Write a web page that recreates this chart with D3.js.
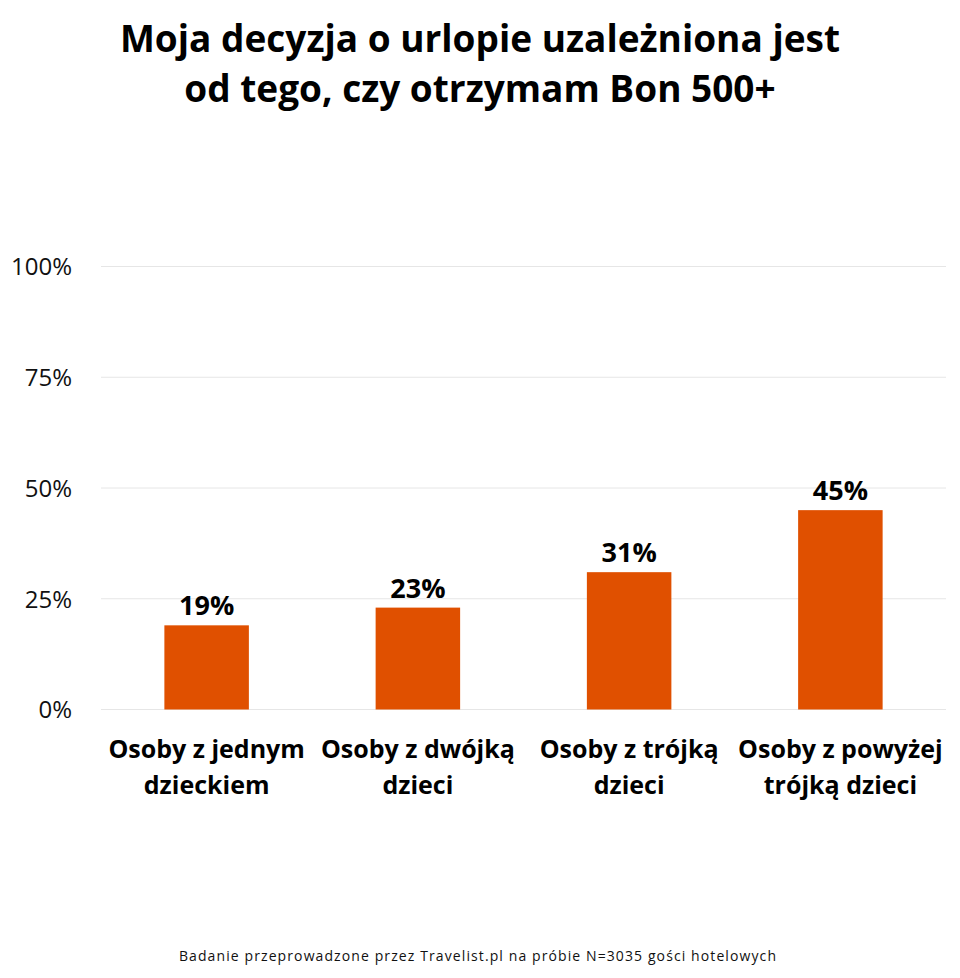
<!DOCTYPE html>
<html><head><meta charset="utf-8">
<script src="https://cdn.jsdelivr.net/npm/d3@7"></script>
<style>body{margin:0;background:#fff}svg{display:block}</style>
</head><body>
<script>
const titleLines = ["Moja decyzja o urlopie uzależniona jest", "od tego, czy otrzymam Bon 500+"];
const categories = [["Osoby z jednym", "dzieckiem"], ["Osoby z dwójką", "dzieci"], ["Osoby z trójką", "dzieci"], ["Osoby z powyżej", "trójką dzieci"]];
const values = [19, 23, 31, 45];
const yTicks = [0, 25, 50, 75, 100];
const footnote = "Badanie przeprowadzone przez Travelist.pl na próbie N=3035 gości hotelowych";

const W = 960, H = 978;
const font = "'Open Sans', 'Noto Sans', sans-serif";
const svg = d3.select("body").append("svg").attr("width", W).attr("height", H);

const x = d3.scaleBand().domain(d3.range(values.length)).range([101, 946]).paddingInner(0.6).paddingOuter(0.3);
const y = d3.scaleLinear().domain([0, 100]).range([709.5, 266.5]);

// gridlines
svg.append("g").selectAll("line").data(yTicks).join("line")
  .attr("x1", 101).attr("x2", 946)
  .attr("y1", d => y(d)).attr("y2", d => y(d))
  .attr("stroke", "#e6e6e6").attr("stroke-width", 1);

// y axis labels
const yAxis = d3.axisLeft(y).tickValues(yTicks).tickFormat(d => d + "%").tickSize(0).tickPadding(0);
const ya = svg.append("g").attr("transform", "translate(72,0)").call(yAxis);
ya.select(".domain").remove();
ya.selectAll("text").attr("font-family", font).attr("font-size", 24).attr("fill", "#111").attr("dy", "0.35em");

// bars
svg.append("g").selectAll("rect").data(values).join("rect")
  .attr("x", (d, i) => x(i)).attr("width", x.bandwidth())
  .attr("y", d => y(d)).attr("height", d => y(0) - y(d))
  .attr("fill", "#e05000");

// value labels
svg.append("g").selectAll("text").data(values).join("text")
  .attr("x", (d, i) => x(i) + x.bandwidth() / 2)
  .attr("y", d => y(d) - 10)
  .attr("text-anchor", "middle").attr("font-family", font).attr("font-weight", 700)
  .attr("font-size", 27).attr("fill", "#000")
  .text(d => d + "%");

// category labels
const cat = svg.append("g").selectAll("text").data(categories).join("text")
  .attr("text-anchor", "middle").attr("font-family", font).attr("font-weight", 700)
  .attr("font-size", 25).attr("fill", "#000");
cat.each(function(lines, i) {
  const t = d3.select(this);
  lines.forEach((l, j) => {
    t.append("tspan").attr("x", x(i) + x.bandwidth() / 2).attr("y", 758 + j * 36).text(l);
  });
});

// title
svg.append("text").attr("text-anchor", "middle").attr("font-family", font).attr("font-weight", 700)
  .attr("font-size", 37).attr("fill", "#000")
  .selectAll("tspan").data(titleLines).join("tspan")
  .attr("x", 480).attr("y", (d, i) => 52 + i * 50).text(d => d);

// footnote
svg.append("text").attr("x", 478).attr("y", 961).attr("text-anchor", "middle")
  .attr("font-family", font).attr("font-size", 14).attr("letter-spacing", 1.1).attr("fill", "#111")
  .text(footnote);
</script>
</body></html>
